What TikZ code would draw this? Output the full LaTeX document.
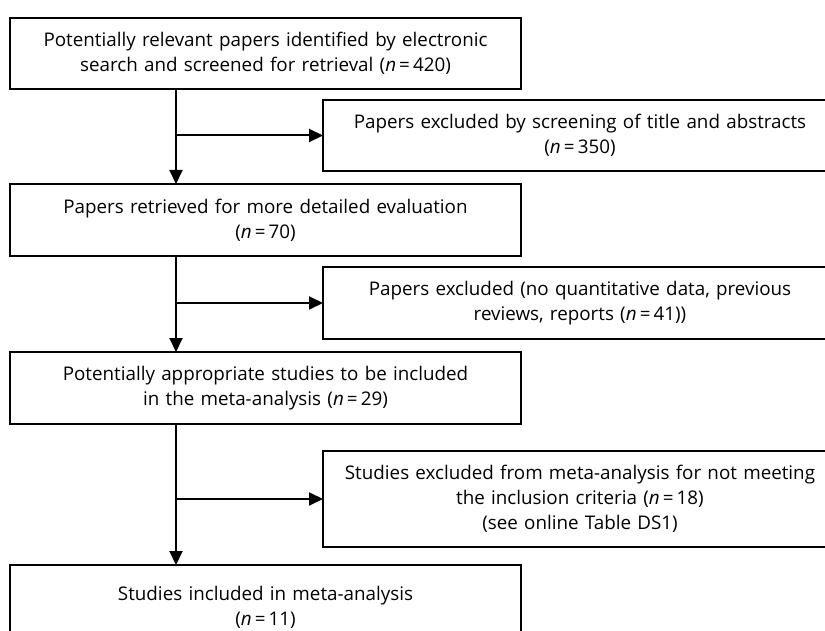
\documentclass[tikz,border=0pt]{standalone}
\usepackage{fontspec}
\setmainfont{Open Sans}
\usepackage{tikz}
\usetikzlibrary{arrows.meta, positioning}

\begin{document}
\begin{tikzpicture}[
  x=1pt, y=-1pt,
  font=\fontsize{18.8}{25}\selectfont,
  lbox/.style = {draw, line width=2pt, inner sep=0pt, outer sep=0pt,
                 minimum width=511pt, minimum height=71pt,
                 text centered, text width=500pt},
  xbox/.style = {draw, line width=2pt, inner sep=0pt, outer sep=0pt,
                 minimum width=514pt, minimum height=71pt,
                 text centered, text width=510pt},
  arr/.style  = {-{Triangle[length=14pt,width=13pt]}, line width=2pt}
]
\useasboundingbox (0,0) rectangle (825,631);
\clip (0,0) rectangle (825,631);

\node[lbox, anchor=north west] at (10,18) (relevant)
  {Potentially relevant papers identified by electronic\\search and screened for retrieval (\textit{n}\,=\,420)};
\node[lbox, minimum height=72pt, below=95pt of relevant] (retrieved)
  {Papers retrieved for more detailed evaluation\\(\textit{n}\,=\,70)};
\node[lbox, minimum height=72pt, below=96pt of retrieved] (appropriate)
  {Potentially appropriate studies to be included\\in the meta-analysis (\textit{n}\,=\,29)};
\node[lbox, minimum height=84pt, below=141pt of appropriate] (included)
  {Studies included in meta-analysis\\(\textit{n}\,=\,11)};

\node[xbox, below right=11pt and 313pt of relevant.south west] (excscreen)
  {Papers excluded by screening of title and abstracts\\(\textit{n}\,=\,350)};
\node[xbox, minimum height=72pt, below right=11pt and 313pt of retrieved.south west] (excdata)
  {Papers excluded (no quantitative data, previous\\reviews, reports (\textit{n}\,=\,41))};
\node[xbox, minimum height=96pt, below right=27pt and 313pt of appropriate.south west] (excmeta)
  {Studies excluded from meta-analysis for not meeting\\the inclusion criteria (\textit{n}\,=\,18)\\(see online Table DS1)};

\coordinate (trunk) at (176,0);

\draw[arr] (relevant.south -| trunk)    -- (retrieved.north -| trunk);
\draw[arr] (retrieved.south -| trunk)   -- (appropriate.north -| trunk);
\draw[arr] (appropriate.south -| trunk) -- (included.north -| trunk);
\draw[arr] (excscreen.west -| trunk)    -- (excscreen.west);
\draw[arr] (excdata.west -| trunk)      -- (excdata.west);
\draw[arr] (excmeta.west -| trunk)      -- (excmeta.west);
\end{tikzpicture}
\end{document}
